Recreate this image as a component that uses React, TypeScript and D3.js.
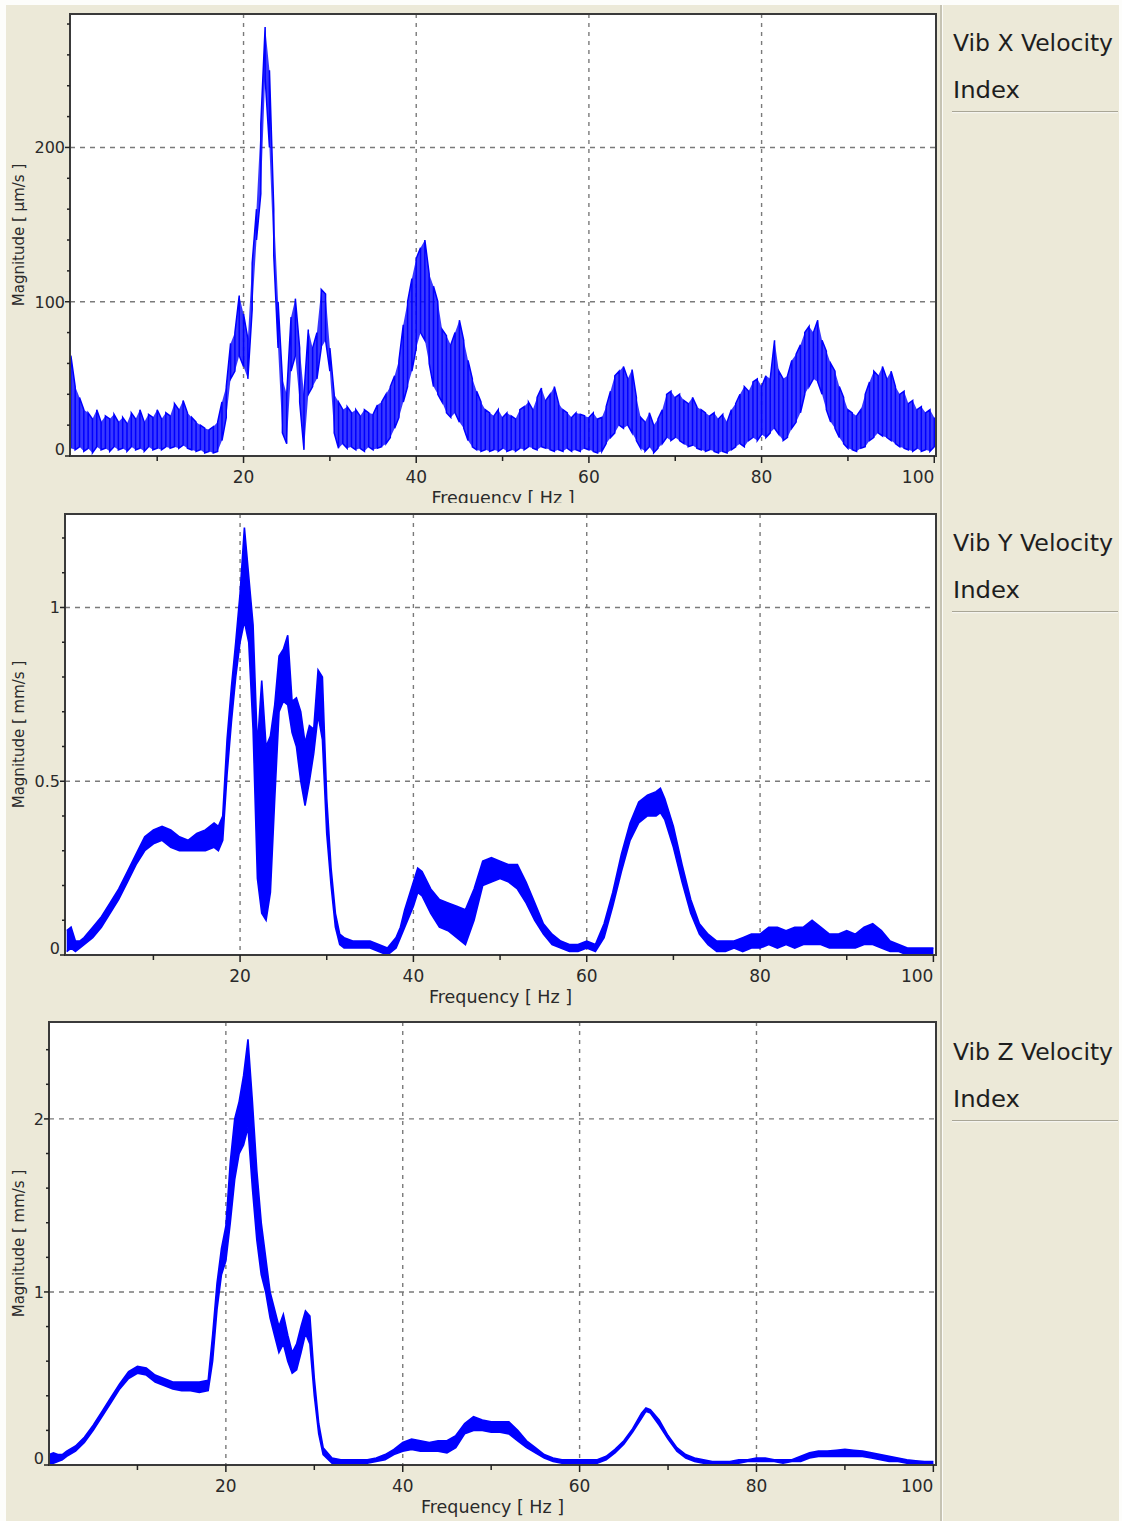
import React from 'react';
import * as d3 from 'd3';

type Row = [number, number, number]; // [frequency Hz, low, high]

// ---------- DATA ----------
const vibX: Row[] = [
  [0,5,65],[0.5,4,45],[1,6,38],[1.5,3,30],[2,5,28],[2.5,2,24],[3,6,30],[3.5,4,22],[4,5,26],[4.5,3,24],
  [5,6,27],[5.5,4,22],[6,5,25],[6.5,3,21],[7,6,28],[7.5,4,24],[8,5,30],[8.5,3,22],[9,6,27],[9.5,4,25],
  [10,5,30],[10.5,4,24],[11,6,28],[11.5,5,26],[12,6,34],[12.5,5,30],[13,7,36],[13.5,5,28],[14,4,25],[14.5,3,22],
  [15,4,20],[15.5,2,18],[16,3,17],[16.5,2,19],[17,3,22],[17.5,10,35],[18,25,45],[18.5,50,73],[19,55,80],[19.5,65,104],
  [20,58,92],[20.5,50,76],[21,95,125],[21.5,140,160],[22,170,215],[22.5,245,278],[23,200,250],[23.5,130,160],[24,70,100],[24.5,15,50],
  [25,8,40],[25.5,55,90],[26,65,102],[26.5,35,70],[27,4,40],[27.5,40,82],[28,45,70],[28.5,50,80],[29,70,108],[29.5,75,105],
  [30,55,70],[30.5,15,40],[31,5,35],[31.5,8,30],[32,5,32],[32.5,6,28],[33,4,30],[33.5,5,26],[34,3,30],[34.5,6,28],
  [35,4,27],[35.5,5,33],[36,6,35],[36.5,8,40],[37,12,45],[37.5,18,52],[38,25,62],[38.5,35,85],[39,45,100],[39.5,55,115],
  [40,70,128],[40.5,80,135],[41,75,140],[41.5,60,118],[42,45,110],[42.5,40,100],[43,35,82],[43.5,28,78],[44,25,72],[44.5,28,80],
  [45,22,88],[45.5,18,75],[46,10,62],[46.5,6,50],[47,4,42],[47.5,3,35],[48,4,30],[48.5,3,28],[49,4,26],[49.5,3,30],
  [50,5,25],[50.5,3,28],[51,4,26],[51.5,3,24],[52,5,30],[52.5,4,32],[53,6,35],[53.5,5,30],[54,4,38],[54.5,6,44],
  [55,5,36],[55.5,4,40],[56,3,45],[56.5,4,34],[57,3,30],[57.5,5,28],[58,3,25],[58.5,4,28],[59,3,27],[59.5,5,26],
  [60,4,25],[60.5,3,28],[61,2,24],[61.5,3,25],[62,8,32],[62.5,12,42],[63,15,52],[63.5,20,55],[64,18,58],[64.5,20,50],
  [65,15,56],[65.5,10,38],[66,5,25],[66.5,3,22],[67,6,28],[67.5,2,20],[68,5,24],[68.5,8,30],[69,12,40],[69.5,10,42],
  [70,12,38],[70.5,10,40],[71,8,36],[71.5,6,34],[72,7,38],[72.5,5,32],[73,4,30],[73.5,3,28],[74,4,26],[74.5,3,28],
  [75,2,24],[75.5,3,27],[76,2,22],[76.5,4,30],[77,6,34],[77.5,8,40],[78,6,45],[78.5,10,42],[79,12,48],[79.5,10,50],
  [80,14,45],[80.5,12,52],[81,15,50],[81.5,18,75],[82,14,55],[82.5,10,50],[83,12,52],[83.5,18,62],[84,22,66],[84.5,28,72],
  [85,40,80],[85.5,45,84],[86,50,80],[86.5,48,88],[87,40,75],[87.5,30,68],[88,22,60],[88.5,18,55],[89,12,45],[89.5,8,38],
  [90,5,30],[90.5,4,28],[91,3,26],[91.5,5,30],[92,6,40],[92.5,10,48],[93,12,55],[93.5,15,52],[94,13,58],[94.5,12,50],
  [95,10,55],[95.5,8,45],[96,6,40],[96.5,5,42],[97,4,34],[97.5,3,36],[98,5,30],[98.5,3,32],[99,4,28],[99.5,3,30],
  [100,6,25],
];

const vibY: Row[] = [
  [0,0.01,0.07],[0.5,0.02,0.08],[1,0.01,0.04],[1.5,0.02,0.04],[2,0.03,0.05],[3,0.05,0.08],[4,0.08,0.11],[5,0.12,0.15],
  [6,0.16,0.19],[7,0.21,0.24],[8,0.26,0.29],[9,0.30,0.34],[10,0.32,0.36],[11,0.33,0.37],[12,0.31,0.36],[13,0.30,0.34],
  [14,0.30,0.33],[15,0.30,0.35],[16,0.30,0.36],[17,0.31,0.38],[17.5,0.30,0.37],[18,0.33,0.40],[18.5,0.52,0.62],[19,0.67,0.77],
  [19.5,0.80,0.90],[20,0.90,1.04],[20.5,0.96,1.23],[21,0.90,1.09],[21.5,0.65,0.95],[22,0.22,0.60],[22.5,0.12,0.79],[23,0.10,0.60],
  [23.5,0.18,0.63],[24,0.45,0.72],[24.5,0.70,0.86],[25,0.73,0.88],[25.5,0.72,0.92],[26,0.64,0.73],[26.5,0.60,0.74],[27,0.50,0.70],
  [27.5,0.43,0.61],[28,0.50,0.66],[28.5,0.58,0.65],[29,0.69,0.82],[29.5,0.62,0.80],[30,0.35,0.45],[30.5,0.20,0.25],[31,0.08,0.12],
  [31.5,0.03,0.06],[32,0.02,0.05],[33,0.02,0.04],[34,0.02,0.04],[35,0.02,0.04],[36,0.01,0.03],[37,0.00,0.02],[38,0.02,0.05],
  [38.5,0.05,0.08],[39,0.08,0.13],[40,0.14,0.21],[40.5,0.18,0.25],[41,0.17,0.24],[42,0.12,0.19],[43,0.08,0.16],[44,0.07,0.15],
  [45,0.05,0.14],[46,0.03,0.13],[47,0.10,0.19],[48,0.20,0.27],[49,0.21,0.28],[50,0.22,0.27],[51,0.21,0.26],[52,0.19,0.26],
  [53,0.15,0.21],[54,0.10,0.15],[55,0.06,0.09],[56,0.03,0.06],[57,0.02,0.04],[58,0.01,0.03],[59,0.01,0.03],[60,0.02,0.04],
  [61,0.01,0.03],[62,0.05,0.09],[63,0.14,0.18],[64,0.24,0.29],[65,0.33,0.38],[66,0.38,0.44],[67,0.40,0.46],[68,0.40,0.47],
  [68.5,0.41,0.48],[69,0.39,0.45],[70,0.31,0.37],[71,0.21,0.26],[72,0.12,0.16],[73,0.06,0.09],[74,0.03,0.06],[75,0.01,0.04],
  [76,0.01,0.04],[77,0.02,0.04],[78,0.01,0.05],[79,0.02,0.06],[80,0.02,0.06],[81,0.03,0.08],[82,0.02,0.08],[83,0.03,0.07],
  [84,0.02,0.08],[85,0.03,0.08],[86,0.03,0.10],[87,0.03,0.08],[88,0.02,0.06],[89,0.02,0.06],[90,0.02,0.07],[91,0.02,0.06],
  [92,0.03,0.08],[93,0.03,0.09],[94,0.02,0.07],[95,0.01,0.04],[96,0.01,0.03],[97,0.00,0.02],[98,0.00,0.02],[99,0.00,0.02],
  [100,0.00,0.02],
];

const vibZ: Row[] = [
  [0,0.00,0.06],[0.5,0.01,0.07],[1,0.02,0.06],[1.5,0.03,0.06],[2,0.05,0.08],[3,0.08,0.11],[4,0.13,0.16],[5,0.20,0.23],
  [6,0.28,0.31],[7,0.36,0.39],[8,0.44,0.47],[9,0.50,0.54],[10,0.53,0.57],[11,0.52,0.56],[12,0.48,0.52],[13,0.46,0.50],
  [14,0.44,0.48],[15,0.43,0.48],[16,0.43,0.48],[17,0.42,0.48],[18,0.43,0.49],[18.5,0.60,0.75],[19,0.90,1.05],[19.5,1.10,1.25],
  [20,1.18,1.38],[20.5,1.40,1.75],[21,1.65,2.00],[21.5,1.80,2.10],[22,1.85,2.25],[22.5,1.95,2.46],[23,1.60,2.10],[23.5,1.30,1.70],
  [24,1.10,1.40],[24.5,1.00,1.20],[25,0.85,1.00],[25.5,0.75,0.90],[26,0.65,0.80],[26.5,0.70,0.87],[27,0.60,0.75],[27.5,0.53,0.65],
  [28,0.55,0.70],[28.5,0.65,0.80],[29,0.76,0.89],[29.5,0.70,0.86],[30,0.40,0.50],[30.5,0.18,0.24],[31,0.06,0.10],[32,0.01,0.04],
  [33,0.01,0.03],[34,0.01,0.03],[35,0.01,0.03],[36,0.01,0.03],[37,0.02,0.04],[38,0.03,0.06],[39,0.06,0.09],[40,0.08,0.13],
  [41,0.09,0.15],[42,0.08,0.14],[43,0.08,0.13],[44,0.08,0.14],[45,0.07,0.14],[46,0.10,0.17],[47,0.18,0.24],[48,0.20,0.28],
  [49,0.20,0.26],[50,0.19,0.25],[51,0.19,0.25],[52,0.18,0.25],[53,0.14,0.20],[54,0.10,0.14],[55,0.07,0.10],[56,0.04,0.06],
  [57,0.02,0.04],[58,0.01,0.03],[59,0.01,0.03],[60,0.01,0.03],[61,0.01,0.03],[62,0.01,0.03],[63,0.03,0.05],[64,0.07,0.09],
  [65,0.12,0.14],[66,0.19,0.21],[67,0.27,0.30],[67.5,0.31,0.33],[68,0.30,0.32],[69,0.23,0.26],[70,0.15,0.17],[71,0.08,0.10],
  [72,0.04,0.06],[73,0.02,0.04],[74,0.01,0.03],[75,0.01,0.02],[76,0.01,0.02],[77,0.01,0.02],[78,0.01,0.03],[79,0.02,0.03],
  [80,0.02,0.04],[81,0.02,0.04],[82,0.02,0.03],[83,0.01,0.03],[84,0.02,0.03],[85,0.02,0.05],[86,0.04,0.07],[87,0.05,0.08],
  [88,0.05,0.08],[89,0.05,0.085],[90,0.05,0.09],[91,0.05,0.085],[92,0.05,0.08],[93,0.04,0.07],[94,0.03,0.06],[95,0.02,0.05],
  [96,0.02,0.04],[97,0.01,0.03],[98,0.01,0.025],[99,0.005,0.02],[100,0.005,0.02],
];

const xMajorTicks = [20, 40, 60, 80, 100];
const xMinorTicks = [10, 30, 50, 70, 90];
const yMajorX = [0, 100, 200];
const yMinorX = [20, 40, 60, 80, 120, 140, 160, 180, 220, 240, 260, 280];
const yMajorY = [0, 0.5, 1];
const yMinorY = [0.1, 0.2, 0.3, 0.4, 0.6, 0.7, 0.8, 0.9, 1.1, 1.2];
const yMajorZ = [0, 1, 2];
const yMinorZ = [0.2, 0.4, 0.6, 0.8, 1.2, 1.4, 1.6, 1.8, 2.2, 2.4];
const channelTitles = ['Vib X Velocity', 'Vib Y Velocity', 'Vib Z Velocity'];
const indexLabel = 'Index';
const yTitles = ['Magnitude [ µm/s ]', 'Magnitude [ mm/s ]', 'Magnitude [ mm/s ]'];
const xTitle = 'Frequency [ Hz ]';

// ---------- LAYOUT ----------
const W = 1122, H = 1521;
const BG = '#ECE9D8';
const BLUE = '#0000FF';
const FONT = '"DejaVu Sans", Verdana, sans-serif';
const TXT = '#2a2a2a';

type Panel = {
  data: Row[]; yMajor: number[]; yMinor: number[];
  left: number; right: number; top: number; bottom: number;
  xDomain: [number, number]; yMax: number; noisy: boolean; offset: number;
};

const panels: Panel[] = [
  { data: vibX, yMajor: yMajorX, yMinor: yMinorX, left: 70, right: 936, top: 14, bottom: 456, xDomain: [-0.1, 100.2], yMax: 286.5, noisy: true, offset: 0 },
  { data: vibY, yMajor: yMajorY, yMinor: yMinorY, left: 65, right: 936, top: 514, bottom: 955, xDomain: [-0.2, 100.3], yMax: 1.269, noisy: false, offset: 500 },
  { data: vibZ, yMajor: yMajorZ, yMinor: yMinorZ, left: 49, right: 936, top: 1022, bottom: 1465, xDomain: [0, 100.3], yMax: 2.56, noisy: false, offset: 1009 },
];

function PanelView({ p, i }: { p: Panel; i: number }) {
  const x = d3.scaleLinear().domain(p.xDomain).range([p.left, p.right]);
  const y = d3.scaleLinear().domain([0, p.yMax]).range([p.bottom, p.top]);
  const area = d3.area<Row>().x(d => x(d[0])).y0(d => y(d[1])).y1(d => y(d[2]));
  const hiLine = d3.line<Row>().x(d => x(d[0])).y(d => y(d[2]));
  const loLine = d3.line<Row>().x(d => x(d[0])).y(d => y(d[1]));
  const zig: [number, number][] = [];
  p.data.forEach((d, k) => {
    if (k % 2 === 0) { zig.push([d[0], d[1]], [d[0], d[2]]); }
    else { zig.push([d[0], d[2]], [d[0], d[1]]); }
  });
  const zigLine = d3.line<[number, number]>().x(d => x(d[0])).y(d => y(d[1]));
  const clipId = `clip${i}`;
  const titleClip = `tclip${i}`;
  const cx = (p.left + p.right) / 2;
  const cy = (p.top + p.bottom) / 2;
  const fmt = (v: number) => String(v);
  return (
    <g>
      <defs>
        <clipPath id={clipId}><rect x={p.left} y={p.top} width={p.right - p.left} height={p.bottom - p.top} /></clipPath>
        <clipPath id={titleClip}><rect x={0} y={p.bottom} width={940} height={i === 0 ? 47 : 70} /></clipPath>
      </defs>
      <rect x={p.left} y={p.top} width={p.right - p.left} height={p.bottom - p.top} fill="#fff" />
      {/* grid */}
      {xMajorTicks.filter(t => t < 100).map(t => (
        <line key={'gx' + t} x1={x(t)} x2={x(t)} y1={p.top} y2={p.bottom} stroke="#7a7a7a" strokeWidth={1.4} strokeDasharray="4,5" />
      ))}
      {p.yMajor.filter(t => t > 0).map(t => (
        <line key={'gy' + t} x1={p.left} x2={p.right} y1={y(t)} y2={y(t)} stroke="#7a7a7a" strokeWidth={1.4} strokeDasharray="5,5" />
      ))}
      {/* series */}
      <g clipPath={`url(#${clipId})`}>
        {p.noisy ? (
          <>
            <path d={area(p.data) || ''} fill={BLUE} fillOpacity={0.78} stroke="none" />
            <path d={zigLine(zig) || ''} fill="none" stroke={BLUE} strokeWidth={1.5} />
          </>
        ) : (
          <>
            <path d={area(p.data) || ''} fill={BLUE} stroke="none" />
            <path d={hiLine(p.data) || ''} fill="none" stroke={BLUE} strokeWidth={1.6} />
            <path d={loLine(p.data) || ''} fill="none" stroke={BLUE} strokeWidth={1.6} />
          </>
        )}
      </g>
      {/* frame */}
      <rect x={p.left} y={p.top} width={p.right - p.left} height={p.bottom - p.top} fill="none" stroke="#3a3a3a" strokeWidth={2} />
      {/* y ticks */}
      {p.yMinor.map(t => (
        <line key={'ym' + t} x1={p.left - 3} x2={p.left} y1={y(t)} y2={y(t)} stroke="#222" strokeWidth={1.5} />
      ))}
      {p.yMajor.map(t => (
        <line key={'yM' + t} x1={p.left - 5} x2={p.left} y1={y(t)} y2={y(t)} stroke="#222" strokeWidth={1.5} />
      ))}
      {p.yMajor.map(t => (
        <text key={'yl' + t} x={p.left - 5} y={t === 0 ? y(t) - 1 : y(t) + 6} textAnchor="end" fontSize={16} fontFamily={FONT} fill={TXT}>{fmt(t)}</text>
      ))}
      {/* x ticks */}
      {xMinorTicks.map(t => (
        <line key={'xm' + t} x1={x(t)} x2={x(t)} y1={p.bottom} y2={p.bottom + 5} stroke="#222" strokeWidth={1.5} />
      ))}
      {xMajorTicks.map(t => (
        <line key={'xM' + t} x1={x(t)} x2={x(t)} y1={p.bottom} y2={p.bottom + 7} stroke="#222" strokeWidth={1.5} />
      ))}
      {xMajorTicks.map(t => (
        <text key={'xl' + t} x={x(t)} y={p.bottom + 27} textAnchor={t === 100 ? 'end' : 'middle'} fontSize={17} fontFamily={FONT} fill={TXT}>{fmt(t)}</text>
      ))}
      {/* axis titles */}
      <g clipPath={`url(#${titleClip})`}>
        <text x={cx} y={p.bottom + 48} textAnchor="middle" fontSize={17.5} fontFamily={FONT} fill={TXT}>{xTitle}</text>
      </g>
      <text transform={`translate(24,${cy}) rotate(-90)`} textAnchor="middle" fontSize={15} fontFamily={FONT} fill={TXT}>{yTitles[i]}</text>
      {/* right side labels */}
      <text x={953} y={51 + p.offset} fontSize={23} fontFamily={FONT} fill="#1e1e1e" textLength={160} lengthAdjust="spacingAndGlyphs">{channelTitles[i]}</text>
      <text x={953} y={98 + p.offset} fontSize={23} fontFamily={FONT} fill="#1e1e1e" textLength={67} lengthAdjust="spacingAndGlyphs">{indexLabel}</text>
      <rect x={952} y={111 + p.offset} width={166} height={1.2} fill="#a9a696" />
      <rect x={952} y={112.2 + p.offset} width={166} height={1} fill="#fbfbf8" />
    </g>
  );
}

export default function App() {
  return (
    <svg width={W} height={H} style={{ position: 'absolute', left: 0, top: 0, display: 'block' }}>
      <rect x={0} y={0} width={W} height={H} fill="#fdfdfb" />
      <rect x={6} y={5} width={1113} height={H - 5} fill={BG} />
      <rect x={940} y={5} width={2} height={H - 5} fill="#c6c3b3" />
      <rect x={942} y={5} width={1} height={H - 5} fill="#fbfbf7" />
      {panels.map((p, i) => <PanelView key={i} p={p} i={i} />)}
    </svg>
  );
}
